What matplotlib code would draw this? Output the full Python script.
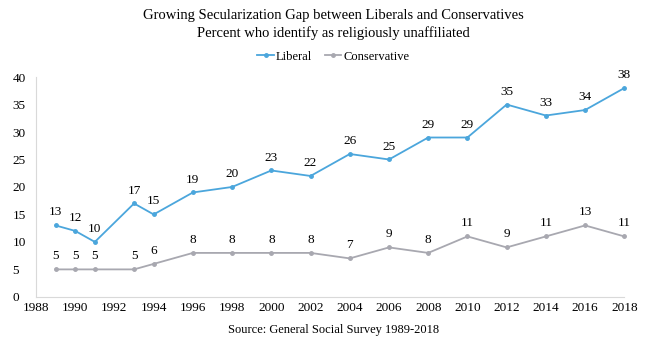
import matplotlib.pyplot as plt
import numpy as np

plt.rcParams['font.family'] = ['Liberation Serif', 'DejaVu Serif']

years = [1989, 1990, 1991, 1993, 1994, 1996, 1998, 2000, 2002, 2004,
         2006, 2008, 2010, 2012, 2014, 2016, 2018]
liberal = [13, 12, 10, 17, 15, 19, 20, 23, 22, 26, 25, 29, 29, 35, 33, 34, 38]
conservative = [5, 5, 5, 5, 6, 8, 8, 8, 8, 7, 9, 8, 11, 9, 11, 13, 11]

blue = '#4ba6dc'
grey = '#a8a8b0'

fig = plt.figure(figsize=(6.67, 3.44), dpi=100)
ax = fig.add_axes([0.054, 0.137, 0.882, 0.639])

ax.plot(years, liberal, color=blue, lw=1.3, marker='o', ms=2.5, label='Liberal')
ax.plot(years, conservative, color=grey, lw=1.3, marker='o', ms=2.5, label='Conservative')

# value labels above each point
for x, y in zip(years, liberal):
    ax.annotate(str(y), (x, y), xytext=(0, 5), textcoords='offset points',
                ha='center', va='bottom', fontsize=9.5)
for x, y in zip(years, conservative):
    ax.annotate(str(y), (x, y), xytext=(0, 5), textcoords='offset points',
                ha='center', va='bottom', fontsize=9.5)

ax.set_xlim(1988, 2018)
ax.set_ylim(0, 40)
ax.set_xticks(np.arange(1988, 2019, 2))
ax.set_yticks(np.arange(0, 41, 5))
ax.tick_params(length=0, labelsize=9.5)
for lab in ax.get_yticklabels():
    lab.set_horizontalalignment('left')
ax.tick_params(axis='y', pad=17)
for s in ['top', 'right']:
    ax.spines[s].set_visible(False)
for s in ['left', 'bottom']:
    ax.spines[s].set_color('#d9d9d9')
    ax.spines[s].set_linewidth(0.8)
for ln in ax.lines:
    ln.set_clip_on(False)

fig.text(0.5, 0.955, 'Growing Secularization Gap between Liberals and Conservatives',
         ha='center', va='center', fontsize=10.5)
fig.text(0.5, 0.905, 'Percent who identify as religiously unaffiliated',
         ha='center', va='center', fontsize=10.5)
fig.legend(loc='center', bbox_to_anchor=(0.5, 0.835), ncol=2, frameon=False,
           fontsize=9, handlelength=1.3, columnspacing=1.0, handletextpad=0.2)
fig.text(0.5, 0.04, 'Source: General Social Survey 1989-2018',
         ha='center', va='center', fontsize=9)

fig.savefig('out.png', dpi=100)
